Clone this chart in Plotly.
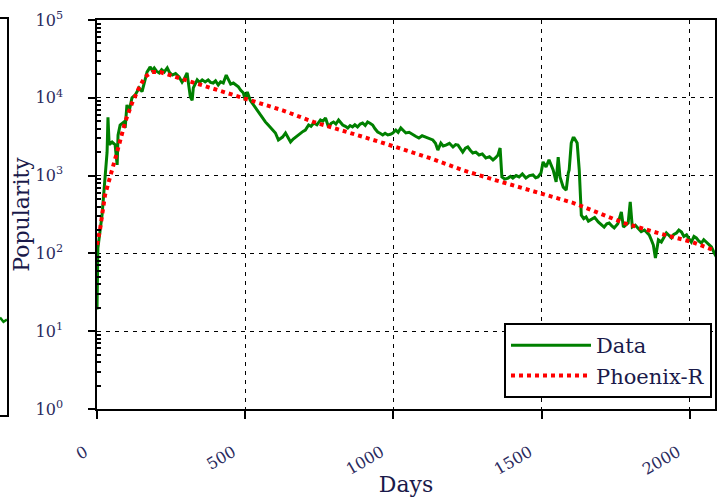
import plotly.graph_objects as go

# ---------------- data ----------------
data_days = [0, 3, 17, 27, 34, 37, 41, 51, 61, 68, 71, 78, 91, 95, 101, 108, 118, 129, 142, 152,
             159, 169, 174, 179, 186, 193, 201, 210, 218, 227, 237, 245, 254, 265, 277, 287, 296,
             304, 308, 315, 321, 325, 331, 338, 346, 355, 365, 375, 383, 392, 400, 409, 417, 426,
             436, 443, 451, 460, 468, 477, 485, 494, 500, 507, 517, 526, 534, 542, 551, 560, 568,
             577, 585, 594, 602, 612, 619, 626, 636, 645, 653, 662, 670, 679, 687, 695, 703, 714,
             722, 731, 742, 754, 762, 771, 781, 790, 798, 806, 815, 822, 829, 838, 846, 854, 862,
             870, 879, 888, 896, 905, 913, 921, 930, 938, 947, 955, 964, 972, 981, 990, 998, 1008,
             1016, 1025, 1033, 1042, 1053, 1065, 1075, 1086, 1097, 1109, 1121, 1133, 1142, 1150,
             1160, 1168, 1177, 1189, 1201, 1210, 1218, 1226, 1234, 1243, 1251, 1260, 1268, 1278,
             1289, 1300, 1312, 1324, 1336, 1345, 1353, 1360, 1366, 1376, 1387, 1395, 1403, 1414,
             1424, 1435, 1447, 1459, 1471, 1480, 1488, 1498, 1505, 1515, 1525, 1539, 1549, 1556,
             1562, 1573, 1583, 1590, 1593, 1600, 1606, 1610, 1620, 1627, 1634, 1642, 1650, 1658,
             1667, 1679, 1691, 1700, 1711, 1720, 1728, 1737, 1745, 1757, 1769, 1776, 1784, 1792,
             1799, 1806, 1816, 1826, 1836, 1847, 1855, 1863, 1870, 1877, 1884, 1894, 1904, 1912,
             1921, 1930, 1938, 1946, 1955, 1963, 1972, 1980, 1989, 1997, 2005, 2014, 2022, 2030,
             2039, 2047, 2056, 2064, 2073, 2083, 2090]
data_values = [19, 117, 310, 830, 2000, 5600, 2500, 2700, 2500, 1370, 3300, 4470, 4900, 4100, 8100,
               6600, 10000, 10900, 13400, 12000, 15900, 21500, 23000, 25000, 22500, 24200, 22000,
               20900, 23000, 21500, 24200, 21000, 19600, 20500, 18500, 15900, 18000, 20900, 15900,
               10200, 9300, 13400, 15000, 17000, 15800, 17000, 16000, 17000, 15800, 15500, 16500,
               14600, 16000, 15500, 19600, 17000, 15000, 15500, 14500, 13800, 12500, 11500, 9300,
               11900, 9300, 8300, 7400, 6900, 6000, 5400, 4900, 4500, 4200, 3900, 3530, 2870, 3000,
               3130, 3530, 3100, 2700, 2950, 3130, 3300, 3530, 3700, 3850, 4470, 4300, 4740, 4500,
               5190, 5000, 5500, 4220, 4700, 4890, 4600, 5190, 4800, 4470, 4300, 4090, 4400, 4220,
               4500, 4220, 4600, 4740, 4400, 4890, 4700, 4470, 4000, 3630, 3500, 3330, 3500, 3330,
               3400, 3530, 3850, 3600, 4090, 3800, 3530, 3600, 3330, 3200, 3040, 3250, 3130, 3000,
               2870, 2600, 2130, 2620, 2400, 2470, 2600, 2330, 2500, 2470, 2200, 2010, 2250, 2330,
               2100, 1950, 2000, 1840, 1900, 1680, 1750, 1590, 1700, 1840, 2260, 960, 900, 930, 980,
               930, 1000, 960, 1050, 930, 1000, 1020, 940, 960, 1080, 1500, 1290, 1590, 1180, 830,
               1730, 960, 710, 650, 1080, 1180, 2620, 3040, 3040, 2620, 1180, 310, 280, 294, 260,
               270, 290, 254, 235, 218, 240, 246, 225, 212, 240, 340, 218, 235, 246, 458, 218, 230,
               212, 190, 200, 185, 173, 150, 128, 87, 149, 140, 160, 183, 170, 158, 175, 183, 200,
               188, 165, 173, 155, 140, 165, 158, 145, 136, 150, 140, 130, 121, 100, 90]

model_days = [0, 10, 27, 51, 74, 95, 118, 142, 162, 186, 213, 264, 375, 490, 626, 730, 845, 957,
              1119, 1234, 1346, 1491, 1606, 1779, 1894, 2005, 2090]
model_values = [129, 200, 560, 1260, 2450, 4900, 8500, 13500, 18600, 21400, 21400, 18600, 13800,
                10200, 6900, 4900, 3630, 2690, 1700, 1175, 870, 600, 447, 245, 182, 141, 107]

# fragment of the neighbouring panel at the left edge
left_x = [0, 0.5, 1]
left_values = [17, 15, 16]

x_ticks = [0, 500, 1000, 1500, 2000]
y_ticks = [1, 10, 100, 1000, 10000, 100000]
y_ticktext = ["10<sup>0</sup>", "10<sup>1</sup>", "10<sup>2</sup>", "10<sup>3</sup>",
              "10<sup>4</sup>", "10<sup>5</sup>"]
y_minor = [m * 10 ** e for e in range(0, 5) for m in range(2, 10)]

FONT = "DejaVu Serif"
TXT = "#2b2b5e"
W, H = 721, 497

fig = go.Figure()
fig.add_trace(go.Scatter(x=data_days, y=data_values, mode="lines", name="Data",
                         line=dict(color="#008000", width=3)))
fig.add_trace(go.Scatter(x=model_days, y=model_values, mode="lines", name="Phoenix-R",
                         line=dict(color="#ff0000", width=4, dash="dot")))
fig.add_trace(go.Scatter(x=left_x, y=left_values, mode="lines", showlegend=False,
                         line=dict(color="#008000", width=2.5), xaxis="x2", yaxis="y2"))

fig.update_layout(
    width=W, height=H,
    margin=dict(l=0, r=0, t=0, b=0),
    paper_bgcolor="white", plot_bgcolor="white",
    font=dict(family=FONT, color=TXT),
    showlegend=True,
    legend=dict(x=712 / W, xanchor="right", y=(H - 398) / H, yanchor="bottom",
                bordercolor="black", borderwidth=2, bgcolor="white", itemwidth=80,
                font=dict(family=FONT, size=21, color="#1a1a4a")),
    xaxis=dict(domain=[97 / W, 715 / W], range=[0, 2085], tickvals=x_ticks,
               ticks="outside", ticklen=8, tickcolor="black", tickwidth=1.5,
               tickangle=-30, tickfont=dict(size=16, color=TXT), ticklabelstandoff=18,
               ticklabelshift=-12,
               showline=True, linecolor="black", linewidth=1.5, mirror=True,
               showgrid=True, gridcolor="black", griddash="4px,5px", gridwidth=1.2,
               zeroline=False, automargin=False,
               title=dict(text="Days", font=dict(size=22, color="#1a1a4a"), standoff=0)),
    yaxis=dict(domain=[(H - 409) / H, (H - 20) / H], type="log", range=[0, 5],
               tickvals=y_ticks, ticktext=y_ticktext,
               ticks="outside", ticklen=7, tickcolor="black", tickwidth=1.5,
               tickfont=dict(size=16, color=TXT), ticklabelstandoff=22,
               minor=dict(tickvals=y_minor, ticks="inside", ticklen=4, tickcolor="black",
                          showgrid=False),
               showline=True, linecolor="black", linewidth=1.5, mirror=True,
               showgrid=True, gridcolor="black", griddash="4px,5px", gridwidth=1.2,
               zeroline=False, automargin=False,
               title=dict(text="Popularity", font=dict(size=22, color="#1a1a4a"), standoff=0)),
    xaxis2=dict(domain=[0, 7 / W], range=[0, 1], showticklabels=False, ticks="",
                showgrid=False, zeroline=False, showline=True, linecolor="black",
                linewidth=1.5, mirror=True, anchor="y2"),
    yaxis2=dict(domain=[(H - 415) / H, (H - 19) / H], type="log", range=[0, 5],
                showticklabels=False, ticks="", showgrid=False, zeroline=False,
                showline=True, linecolor="black", linewidth=1.5, mirror=True, anchor="x2"),
)

fig.write_html("out.html")
